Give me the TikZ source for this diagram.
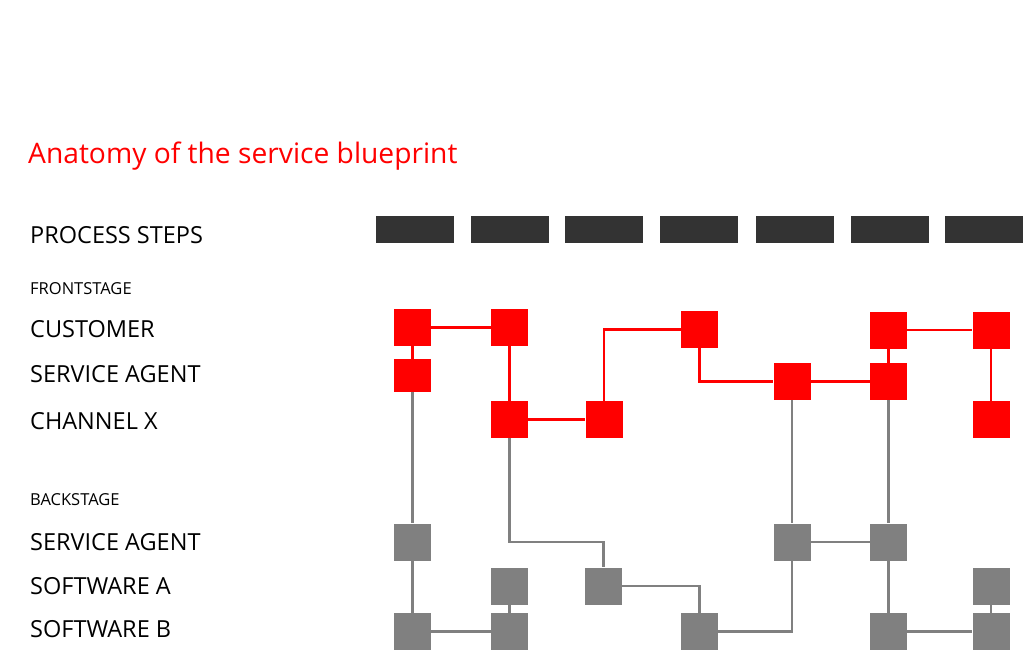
\documentclass[tikz,border=0pt]{standalone}
\usepackage{fontspec}
\setmainfont{Open Sans}
\definecolor{bpred}{HTML}{FF0000}
\definecolor{bpgray}{HTML}{808080}
\definecolor{stepgray}{HTML}{333333}
\begin{document}
\begin{tikzpicture}[x=1pt,y=-1pt,
    stepbar/.style={fill=stepgray,minimum width=78pt,minimum height=27pt,inner sep=0pt},
    front/.style={fill=bpred,minimum width=37pt,minimum height=37pt,inner sep=0pt},
    back/.style={fill=bpgray,minimum width=37pt,minimum height=37pt,inner sep=0pt},
    redline/.style={bpred,line width=2.8pt},
    grayline/.style={bpgray,line width=2.8pt},
    lane/.style={anchor=base west,inner sep=0pt,font=\fontsize{23.5}{23.5}\selectfont},
    stage/.style={anchor=base west,inner sep=0pt,font=\fontsize{16.5}{16.5}\selectfont}]
        \useasboundingbox (0,0) rectangle (1024,661);
        % title
        \node [anchor=base west,inner sep=0pt,text=bpred,font=\fontsize{28.2}{28.2}\selectfont] (title) at (28,163) {Anatomy of the service blueprint};
        % lanes
        \node [lane] (lsteps) at (30,243) {PROCESS STEPS};
        \node [stage] (lfront) at (30,294) {FRONTSTAGE};
        \node [lane] (lcust) at (30,337) {CUSTOMER};
        \node [lane] (lagent) at (30,382) {SERVICE AGENT};
        \node [lane] (lchan) at (30,429) {CHANNEL X};
        \node [stage] (lback) at (30,505) {BACKSTAGE};
        \node [lane] (lbagent) at (30,550) {SERVICE AGENT};
        \node [lane] (lsofta) at (30,594) {SOFTWARE A};
        \node [lane] (lsoftb) at (30,637) {SOFTWARE B};
        % steps
        \foreach \i/\x in {1/415,2/509.5,3/603.5,4/699,5/795,6/890,7/984}
            \node [stepbar] (step\i) at (\x,229.5) {};
        % frontstage
        \node [front] (c1) at (412.5,327.5) {};
        \node [front] (c2) at (509.5,327.5) {};
        \node [front] (c4) at (699.5,329.5) {};
        \node [front] (c5) at (888.5,330) {};
        \node [front] (c6) at (991,330) {};
        \node [front,minimum height=33pt] (a1) at (412.5,375.5) {};
        \node [front] (a4) at (792,381.5) {};
        \node [front] (a5) at (888.5,381.5) {};
        \node [front] (x2) at (509.5,419.5) {};
        \node [front] (x3) at (604,419.5) {};
        \node [front] (x6) at (991,419.5) {};
        % backstage
        \node [back] (b1) at (412.5,542) {};
        \node [back] (b4) at (792,542) {};
        \node [back] (b5) at (888.5,542) {};
        \node [back] (sa2) at (509.5,586) {};
        \node [back] (sa3) at (603.5,586) {};
        \node [back] (sa6) at (991,586) {};
        \node [back] (sb1) at (412.5,631.5) {};
        \node [back] (sb2) at (509.5,631.5) {};
        \node [back] (sb4) at (699.5,631.5) {};
        \node [back] (sb5) at (888.5,631.5) {};
        \node [back] (sb6) at (991,631.5) {};
        % red lines
        \draw [redline] (c1) -- (c2);\draw [redline] (c1) -- (a1);\draw [redline] (c2) -- (x2);\draw [redline] (x2) -- (x3);
        \draw [redline] (x3) |- (c4);\draw [redline] (c4) |- (a4);\draw [redline] (a4) -- (a5);\draw [redline] (c5) -- (a5);
        \draw [redline] (c5) -- (c6);\draw [redline] (c6) -- (x6);
        % gray lines
        \draw [grayline] (a1) -- (b1);\draw [grayline] (b1) -- (sb1);\draw [grayline] (sb1) -- (sb2);\draw [grayline] (sa2) -- (sb2);
        \draw [grayline] (x2) |- (b1 -| sa3) -- (sa3);\draw [grayline] (sa3) -| (sb4);\draw [grayline] (sb4) -| (b4);
        \draw [grayline] (a4) -- (b4);\draw [grayline] (b4) -- (b5);\draw [grayline] (a5) -- (b5);
        \draw [grayline] (b5) -- (sb5);\draw [grayline] (sb5) -- (sb6);\draw [grayline] (sa6) -- (sb6);
\end{tikzpicture}
\end{document}
